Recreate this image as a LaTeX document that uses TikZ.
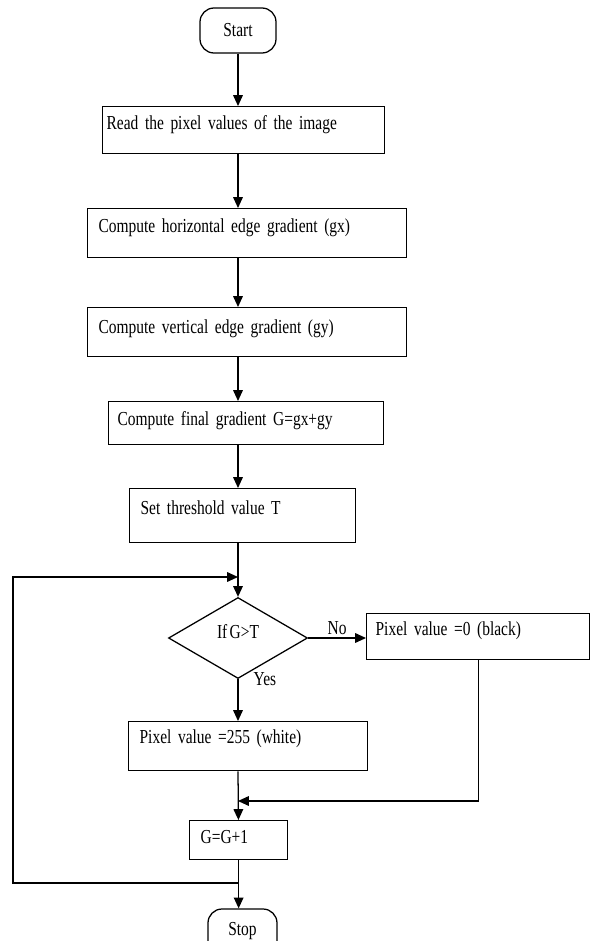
\documentclass[tikz,border=0pt]{standalone}
\usepackage{fontspec}
\setmainfont{Liberation Serif}[FakeStretch=0.78, WordSpace=0.6]
\usetikzlibrary{arrows.meta, shapes.geometric}

\begin{document}
\begin{tikzpicture}[font=\fontsize{14.1}{16}\selectfont, line width=0.9pt,
  every node/.style={inner sep=0pt},
  procbox/.style={rectangle, draw, anchor=north west, align=left, inner xsep=0.275cm, inner ysep=0pt, text height=0.575cm, text depth=0.6cm},
  termbox/.style={rectangle, draw, rounded corners=0.35cm, minimum width=1.9cm, minimum height=1.125cm},
  flow/.style={-{Triangle[length=2.7mm, width=2.4mm]}}]
  \useasboundingbox (0,0) rectangle (14.75,-23.525);

  % --- Top: start and the gradient steps ---
  \node[termbox] (start) at (5.95, -0.7625) {Start};
  \node[procbox, inner xsep=0.1cm, text width=6.85cm, text height=0.575cm, text depth=0.6cm] (read) at (2.55, -2.65) {Read the pixel values of the image};
  \node[procbox, text width=7.425cm, text height=0.6cm, text depth=0.625cm] (horiz) at (2.175, -5.2) {Compute horizontal edge gradient (gx)};
  \node[procbox, text width=7.425cm, text height=0.65cm, text depth=0.575cm] (vert) at (2.175, -7.675) {Compute vertical edge gradient (gy)};
  \node[procbox, inner xsep=0.225cm, text width=6.425cm, text height=0.6cm, text depth=0.475cm] (final) at (2.7, -10.025) {Compute final gradient G=gx+gy};
  \node[procbox, text width=5.1cm, text height=0.65cm, text depth=0.7cm] (thresh) at (3.225, -12.2) {Set threshold value T};

  % --- Test and the two outcomes ---
  \node[diamond, draw, minimum width=3.475cm, minimum height=2.025cm, text depth=0.3cm] (cmp) at (5.95, -15.95) {If G>T};
  \node[procbox, inner xsep=0.225cm, text width=5.125cm, text height=0.55cm, text depth=0.6cm] (black) at (9.15, -15.325) {Pixel value =0 (black)};
  \node[procbox, text width=5.425cm, text height=0.55cm, text depth=0.675cm] (white) at (3.2, -18.025) {Pixel value =255 (white)};
  \node[procbox, text width=1.9cm, text height=0.575cm, text depth=0.4cm] (incr) at (4.725, -20.5) {G=G+1};
  \node[termbox, minimum width=1.725cm] (stop) at (6.0625, -23.2875) {Stop};

  % bends of the merge and the loop back
  \coordinate (merge) at (5.95, -20.025);
  \coordinate (loopbot) at (5.95, -22.075);
  \coordinate (loopside) at (0.325, -14.425);
  \coordinate (looptop) at (5.95, -14.425);

  % --- Connectors ---
  \draw[flow] (start) -- (start |- read.north);
  \draw[flow] (cmp |- read.south) -- (cmp |- horiz.north);
  \draw[flow] (cmp |- horiz.south) -- (cmp |- vert.north);
  \draw[flow] (cmp |- vert.south) -- (cmp |- final.north);
  \draw[flow] (cmp |- final.south) -- (cmp |- thresh.north);
  \draw[flow] (cmp |- thresh.south) -- (cmp);
  \draw[flow] (cmp) -- node[above=2pt] {No} (black.west |- cmp);
  \draw[flow] (cmp) -- node[at start, anchor=west, xshift=0.375cm] {Yes} (cmp |- white.north);
  \draw[flow] (cmp |- white.south) -- (incr);
  \draw[flow] (black.south) |- (merge);
  \draw[flow] (incr) -- (incr |- stop.north);
  \draw[flow] (loopbot) -| (loopside) -- (looptop);
\end{tikzpicture}
\end{document}
